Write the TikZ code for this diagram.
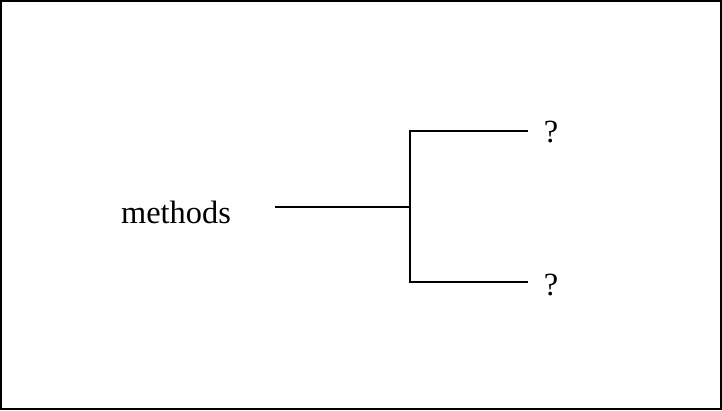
\documentclass[tikz,border=0pt]{standalone}
\usepackage{fontspec}
\setmainfont{Liberation Serif}
\begin{document}
\begin{tikzpicture}[x=1bp,y=-1bp]
            \tikzstyle{every node}+=[inner sep=0pt]
            \tikzstyle{branch}=[black, line width=1.5bp]
            \useasboundingbox (0,0) rectangle (722,410);
            \draw [black, line width=1.5bp] (1,1) rectangle (721,409);
            \node (methods) at (176,212) {\fontsize{32.5}{38}\selectfont methods};
            \node (qtop) at (551,132) {\fontsize{32.5}{38}\selectfont ?};
            \node (qbot) at (551,285) {\fontsize{32.5}{38}\selectfont ?};
            \coordinate (start) at (275,207);
            \coordinate (fork) at (410,207);
            \coordinate (up) at (410,131);
            \coordinate (down) at (410,282);
            \coordinate (upend) at (528,131);
            \coordinate (downend) at (528,282);
            \draw [branch] (start) -- (fork);
            \draw [branch] (upend) -- (up) -- (down) -- (downend);
\end{tikzpicture}
\end{document}
